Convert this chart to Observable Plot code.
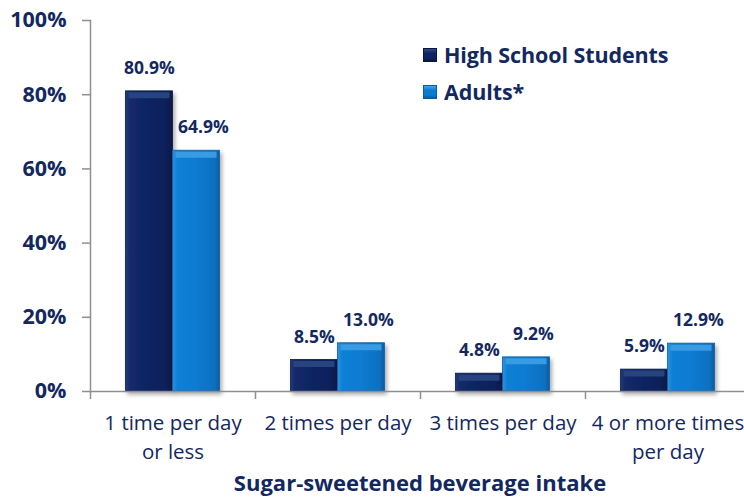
<!DOCTYPE html>
<html><head><meta charset="utf-8">
<script src="https://cdn.jsdelivr.net/npm/d3@7"></script>
<script src="https://cdn.jsdelivr.net/npm/@observablehq/plot@0.6"></script>
<style>
body{margin:0;background:#fff;font-family:"Open Sans", sans-serif;}
#wrap{position:relative;width:744px;height:499px;overflow:hidden;background:#fff}
#legend{position:absolute;left:423px;top:36px;color:#13285f;font-weight:bold;font-size:21.5px;letter-spacing:-0.1px}
#legend .row{display:flex;align-items:center;height:37px}
#legend .sw{width:14px;height:14px;margin-right:7px;box-sizing:border-box}
#title{position:absolute;left:90px;width:660px;top:470px;height:24px;line-height:24px;text-align:center;color:#13285f;font-weight:bold;font-size:22px}
</style></head><body><div id="wrap"></div>
<script>
const categories = ["1 time per day\nor less", "2 times per day", "3 times per day", "4 or more times\nper day"];
const seriesNames = ["High School Students", "Adults*"];
const highSchool = [80.9, 8.5, 4.8, 5.9];
const adults = [64.9, 13.0, 9.2, 12.9];
const yTicks = [0, 20, 40, 60, 80, 100];
const xTitle = "Sugar-sweetened beverage intake";

const navy = "#13285f", gray = "#8f8f8f";
const hsRows = categories.map((c, i) => ({cat: c, series: seriesNames[0], value: highSchool[i]}));
const adRows = categories.map((c, i) => ({cat: c, series: seriesNames[1], value: adults[i]}));

const xRange = [90, 750];
const bw = (xRange[1] - xRange[0]) / categories.length;
const barW = 47;
const outer = (bw - 2 * barW) / 2;
const off = outer + barW / 2 - bw / 2;

const plot = Plot.plot({
  width: 744, height: 468,
  marginTop: 20, marginBottom: 77, marginLeft: 90, marginRight: 0,
  style: {fontFamily: "'Open Sans', sans-serif", background: "white", overflow: "visible", color: navy},
  x: {domain: categories, range: xRange, padding: 0, label: null},
  y: {domain: [0, 100], label: null},
  marks: [
    Plot.axisY({ticks: yTicks, tickSize: 8, tickPadding: 16, tickFormat: d => d + "%", fontSize: 21.5, fontWeight: "bold", stroke: gray, strokeWidth: 1.5, fill: navy}),
    Plot.frame({anchor: "left", stroke: gray, strokeWidth: 1.5}),
    Plot.axisX({tickSize: 8, tickFormat: () => "", dx: -bw / 2, stroke: gray, strokeWidth: 1.5}),
    Plot.axisX({tickSize: 0, tickPadding: 18, fontSize: 20.5, lineHeight: 1.4, fill: navy}),
    Plot.barY(hsRows, {x: "cat", y: "value", insetLeft: outer, insetRight: bw - outer - barW, fill: "url(#gHS)", stroke: "#0a1a4a", strokeWidth: 0.8}),
    Plot.barY(adRows, {x: "cat", y: "value", insetLeft: outer + barW, insetRight: outer, fill: "url(#gAD)", stroke: "#0a5fa6", strokeWidth: 0.8}),
    Plot.tickY(hsRows, {x: "cat", y: "value", insetLeft: outer + 3, insetRight: bw - outer - barW + 3, dy: 4, stroke: "#28447f", strokeWidth: 6}),
    Plot.tickY(adRows, {x: "cat", y: "value", insetLeft: outer + barW + 3, insetRight: outer + 3, dy: 4, stroke: "#389be3", strokeWidth: 6}),
    Plot.ruleY([0], {stroke: gray, strokeWidth: 1.5}),
    Plot.text(hsRows, {x: "cat", y: "value", text: d => d.value.toFixed(1) + "%", dx: off, dy: -23, fontSize: 17.5, fontWeight: "bold", fill: navy}),
    Plot.text(adRows, {x: "cat", y: "value", text: d => d.value.toFixed(1) + "%", dx: -off + 7, dy: -23, fontSize: 17.5, fontWeight: "bold", fill: navy})
  ]
});

const svg = d3.select(plot);
const defs = svg.insert("defs", ":first-child");
function grad(id, stops) {
  const g = defs.append("linearGradient").attr("id", id).attr("x1", 0).attr("x2", 1).attr("y1", 0).attr("y2", 0);
  stops.forEach(([o, c]) => g.append("stop").attr("offset", o).attr("stop-color", c));
}
grad("gHS", [["0", "#213b7c"], ["0.1", "#13296a"], ["0.5", "#0f2462"], ["0.9", "#0c1f58"], ["1", "#08173f"]]);
grad("gAD", [["0", "#2f93df"], ["0.1", "#0d80d6"], ["0.5", "#0b7bd1"], ["0.9", "#0a70c0"], ["1", "#075ba0"]]);
const f = defs.append("filter").attr("id", "shadow").attr("x", "-20%").attr("y", "-20%").attr("width", "150%").attr("height", "150%");
f.append("feDropShadow").attr("dx", 2).attr("dy", 3).attr("stdDeviation", 2).attr("flood-color", "#000").attr("flood-opacity", 0.35);
svg.selectAll("g[aria-label=bar]").attr("filter", "url(#shadow)");

const wrap = document.getElementById("wrap");
wrap.appendChild(plot);

const legend = document.createElement("div");
legend.id = "legend";
const swatches = [["#0f2462", "#2e4b8b", "#08173f"], ["#0b7bd1", "#45a7ec", "#075ba0"]];
seriesNames.forEach((s, i) => {
  const row = document.createElement("div"); row.className = "row";
  const sw = document.createElement("div"); sw.className = "sw";
  const [b, t, e] = swatches[i];
  sw.style.background = `linear-gradient(180deg, ${t} 0%, ${b} 35%, ${b} 75%, ${e} 100%)`;
  sw.style.border = `1px solid ${e}`;
  const tx = document.createElement("span"); tx.textContent = s;
  row.appendChild(sw); row.appendChild(tx); legend.appendChild(row);
});
wrap.appendChild(legend);

const title = document.createElement("div");
title.id = "title"; title.textContent = xTitle;
wrap.appendChild(title);
</script></body></html>
